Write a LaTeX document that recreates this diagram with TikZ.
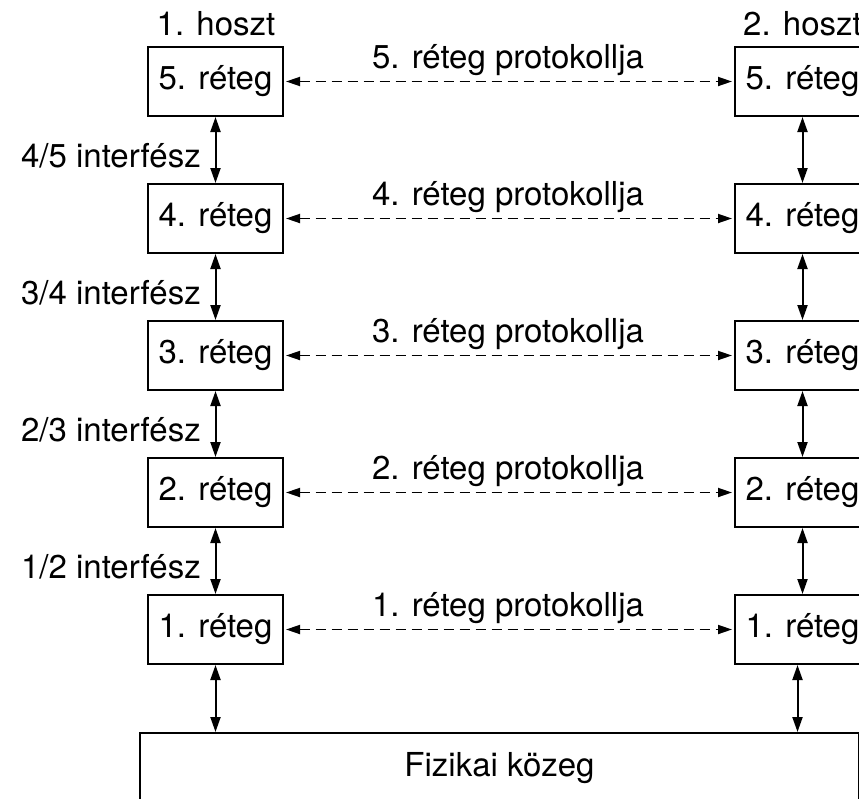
\documentclass[tikz,border=0pt]{standalone}
\usepackage{fontspec}
\setmainfont{TeX Gyre Heros}
\usetikzlibrary{arrows.meta}
\begin{document}
\begin{tikzpicture}[x=1pt,y=-1pt,
  txt/.style={font=\fontsize{33}{38}\selectfont, inner sep=0pt},
  box/.style={txt, draw, line width=2pt, minimum width=135pt, minimum height=69pt},
  vlink/.style={line width=2pt, {Triangle[length=15pt,width=10pt]}-{Triangle[length=15pt,width=10pt]}},
  plink/.style={line width=1.8pt, dash pattern=on 10pt off 6pt, {Triangle[length=14pt,width=9pt]}-{Triangle[length=14pt,width=9pt]}, shorten <=2pt, shorten >=2pt}
]
\useasboundingbox (0,0) rectangle (859,798);
\clip (0,0) rectangle (859,798);
\fill[white] (0,0) rectangle (859,798);

% layer boxes and protocols
\foreach \i/\y in {5/81.5,4/218.5,3/355.5,2/492.5,1/629.5}{
  \node[box] (L\i) at (215.5,\y) {\i. réteg};
  \node[box] (R\i) at (802.5,\y) {\i. réteg};
  \draw[plink] (L\i.east) -- (R\i.west);
  \node[txt, anchor=base] (P\i) at (508,\y-13) {\i. réteg protokollja};
}

\node[txt, anchor=base] (H1) at (216,35) {1. hoszt};
\node[txt, anchor=base west] (H2) at (743,35) {2. hoszt};

\node[box, anchor=north west, minimum width=719pt, minimum height=70pt] (F) at (139,732) {Fizikai közeg};

% interfaces
\foreach \a/\b/\y in {5/4/167,4/3/304,3/2/441,2/1/578}{
  \draw[vlink] (L\a.south) -- (L\b.north);
  \draw[vlink] (R\a.south) -- (R\b.north);
  \node[txt, anchor=base east] (I\b) at (201,\y) {\b/\a\ interfész};
}
\draw[vlink] (L1.south) -- (L1.south |- F.north);
\draw[vlink] (R1.south) ++(-5,0) coordinate (r1s) -- (r1s |- F.north);
\end{tikzpicture}
\end{document}
